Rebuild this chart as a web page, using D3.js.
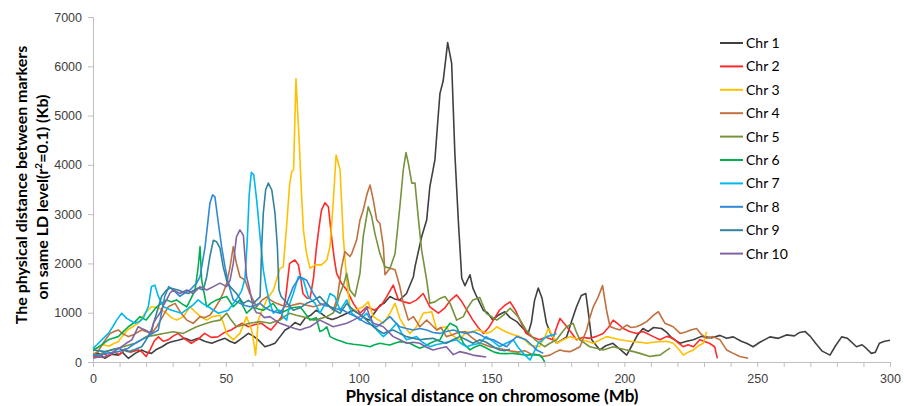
<!DOCTYPE html>
<html>
<head>
<meta charset="utf-8">
<script src="https://cdn.jsdelivr.net/npm/d3@7"></script>
<style>
  body { margin: 0; background: #fff; }
  svg { display: block; }
</style>
</head>
<body>
<svg id="chart"></svg>
<script>
var width = 904, height = 406;

var names = ["Chr 1", "Chr 2", "Chr 3", "Chr 4", "Chr 5", "Chr 6", "Chr 7", "Chr 8", "Chr 9", "Chr 10"];
var colors = ["#404040", "#ff2a2a", "#ffc000", "#c0703e", "#76933c", "#00b050", "#00b8f0", "#2f8ad6", "#31849b", "#8064a2"];
var yTicks = [0, 1000, 2000, 3000, 4000, 5000, 6000, 7000];
var xLabels = [0, 50, 100, 150, 200, 250, 300];

// [Mb, Kb]
var chr1 = [[0,140],[2,180],[4.5,75],[7,160],[9.5,140],[11,200],[13.3,75],[16,180],[18.3,245],[20,200],[22,175],[24,260],[26,310],[28,380],[29.6,410],[32,440],[34.6,480],[37,430],[39.6,480],[42,420],[44.7,380],[47,430],[49.7,480],[51.5,420],[53.4,380],[56,480],[58.5,580],[60.5,520],[62.2,450],[64.7,310],[66.5,340],[68.5,380],[70.5,520],[72.3,650],[74,700],[76,800],[78,750],[80,900],[82,950],[84,1050],[86,980],[88,900],[90,860],[92,900],[94,950],[96,1000],[98,1050],[100,980],[102,900],[104,850],[106,1000],[108,1150],[109.5,1190],[111.8,1330],[113.5,1280],[115.5,1260],[118,1390],[120.6,1730],[121.2,1930],[122.5,2250],[123.7,2540],[125.6,2880],[126.8,3560],[128.7,4100],[129.8,4900],[130.6,5450],[131.8,5700],[133.5,6480],[135,6060],[136.2,4240],[137.5,2880],[138.8,1700],[140,1550],[141.9,1770],[143,1500],[144.4,1330],[146.9,1050],[148.5,1000],[150.5,850],[152.5,950],[155,1020],[157,900],[159.5,820],[161.5,700],[163.8,580],[165,800],[166.2,1250],[167.6,1500],[169,1300],[170.7,785],[172.5,550],[174.5,380],[176.5,450],[178.3,510],[180,800],[182,1120],[183.8,1350],[185.5,1390],[186.7,900],[187.7,450],[190.8,245],[193,330],[195.7,380],[198.5,250],[200.9,140],[203,350],[205,550],[207,680],[209,620],[211,700],[214,680],[216,600],[218,480],[221,380],[223.5,420],[226,450],[229,520],[233,490],[236,540],[238.5,480],[241,510],[244,420],[246,380],[248.5,310],[251,400],[254.8,510],[258,480],[261,550],[264,530],[266,600],[268,620],[270,520],[272,380],[274.5,220],[277.4,140],[279.5,330],[281.8,510],[284,480],[287.4,310],[289.5,350],[291,280],[293,175],[294.5,200],[296,380],[298,420],[300,440]];
var chr2 = [[0,120],[2,100],[4,160],[6,120],[8,200],[10,150],[12,260],[14,200],[17,245],[18.5,200],[20,110],[21.5,250],[23,420],[24.6,510],[26.5,420],[28.3,450],[30,520],[32,580],[34.5,470],[37,380],[39.5,460],[42,580],[44.5,500],[47,510],[49.5,600],[52,650],[54,720],[56,785],[58.5,715],[61,760],[63.5,785],[65.5,700],[67,650],[69,780],[71,920],[72.5,1300],[74,2000],[76,2070],[77.3,1970],[78.2,1700],[79,1390],[80.5,1300],[81.7,1290],[83,1700],[84,2270],[85,2700],[86,3080],[87.3,3230],[88.6,3150],[89.8,2540],[90.8,2100],[91.7,1800],[93.5,1600],[95.5,1460],[97,1300],[98,1190],[100.5,990],[103,1120],[106,1050],[108.5,1150],[110.5,1320],[113,1560],[115,1260],[117,1220],[119.3,1190],[121.8,1260],[124.3,1390],[126.8,1120],[130,990],[132.5,1100],[134.5,1250],[136.9,1360],[138.5,1250],[140,1120],[143,850],[145,700],[147,580],[149,700],[150.7,850],[153,1050],[155,1150],[157,1220],[159,1050],[160.7,850],[163,580],[165.5,500],[168,450],[170.5,500],[173,450],[174.5,700],[175.8,885],[178.3,720],[180,600],[182,450],[184.5,500],[187,480],[189.5,520],[192,580],[194,700],[195.8,850],[197.5,780],[199.6,680],[202,620],[204.6,580],[207,620],[209.6,550],[211.5,500],[213.4,450],[216,520],[218.4,480],[220,400],[222.2,310],[224,350],[226,310],[228.4,450],[230,420],[232,380],[234,310],[235,75]];
var chr3 = [[0,250],[2,300],[4,350],[6,320],[8,380],[9.5,410],[11,520],[13,650],[15,720],[17,785],[19.6,990],[22,1120],[25,1090],[27.7,990],[29.5,900],[31.5,850],[34,920],[36.5,1120],[39,990],[41,900],[42.8,850],[45,920],[47.8,950],[49,800],[50.3,580],[52.8,450],[55.3,580],[57.8,920],[59.7,650],[60.5,400],[61.2,140],[62.2,850],[64,1100],[65.4,1260],[67.9,1460],[70.4,1900],[71.6,1930],[72.9,2780],[74,3600],[74.8,3860],[75.5,3900],[76.4,5750],[77.6,4500],[78.5,3400],[79.2,2680],[80.4,2200],[81.7,1900],[83.6,1970],[86,1970],[88,2070],[89.2,2340],[90.4,3220],[91.5,4200],[93,3900],[94.2,2540],[95.5,1660],[96.7,1120],[98.6,1050],[101.7,1120],[103.6,1220],[105.5,920],[107.5,850],[109.3,785],[111.8,990],[113.7,1190],[115.5,885],[117.5,700],[119.3,580],[121.8,715],[124.3,990],[127.5,1020],[129.4,650],[131,700],[133,715],[135,550],[138,450],[140.6,615],[142.5,600],[144.4,650],[146,640],[148,580],[150,620],[152,715],[154,650],[156,600],[158,560],[160.7,515],[162.5,450],[164.5,345],[166,330],[168,310],[170,500],[171.4,680],[173,520],[174.5,380],[177,450],[179.5,515],[181.5,480],[183.3,450],[186,420],[188.3,380],[191,450],[193.3,515],[196,480],[198.3,450],[201,430],[203.4,410],[206,400],[208.4,380],[211,400],[213.4,410],[216,420],[218.4,380],[220.5,260],[222.2,140],[224,200],[226,245],[228,330],[229.7,380],[231,615]];
var chr4 = [[0,150],[2,220],[4,400],[6.4,580],[8,620],[9.5,650],[11,580],[13.3,515],[15.5,560],[18.3,650],[20,620],[22,580],[24,715],[26,900],[28.3,1120],[30.9,1190],[33,1000],[35.3,850],[37.7,785],[40.3,920],[42,900],[44,950],[46,1100],[47.8,1260],[49,1400],[50.3,1600],[51.5,1900],[52.8,2340],[54,2000],[55.3,1730],[57.2,1660],[59,1390],[61.6,1120],[63.5,1250],[65.4,1320],[67,1250],[69.1,1190],[71,1150],[72.9,1120],[75,1150],[77.9,1190],[80.5,1150],[82.9,1120],[85,1150],[87.9,1190],[90.4,1050],[92,1300],[93.5,1900],[94.8,2240],[96.7,2140],[97.4,2200],[99.2,2470],[100.5,2880],[101.7,3080],[103.2,3420],[104.3,3590],[105.5,3290],[106.8,2880],[108,2810],[109.3,2340],[109.9,1770],[111.8,1900],[113.7,1870],[115.5,1530],[116.8,1190],[118.7,850],[120.6,920],[123,715],[125.6,850],[127.5,750],[129.4,650],[131,700],[133,515],[135,550],[137.5,600],[140,620],[142.5,500],[145,400],[147.5,350],[150,300],[152.5,280],[155,250],[157.5,220],[160,200],[162.5,230],[165,160],[167,150],[169.5,110],[172,140],[174,200],[175.8,245],[177.5,220],[179.5,210],[181.5,260],[183.3,310],[185.8,650],[187,900],[188.3,1120],[190,1300],[191.8,1550],[193.3,1050],[194.6,720],[196.5,680],[198.3,650],[200.9,750],[202.5,700],[204.6,715],[206.5,760],[208.4,820],[211,950],[212.8,1020],[215.3,785],[218.4,715],[221,580],[223.4,615],[225,650],[227.2,680],[229,560],[231,480],[233.4,515],[236,450],[238.5,245],[241,175],[243.5,110],[246.6,75]];
var chr5 = [[0,150],[2,140],[4,200],[6,230],[8,260],[9.5,280],[12,320],[15.8,380],[18,450],[20,515],[23,540],[26.5,580],[30.2,615],[34,580],[36.5,650],[39,715],[42.8,785],[45,820],[47.8,850],[50.3,990],[52,850],[54,715],[56.5,750],[59,785],[62.9,820],[66.6,785],[70.4,850],[72,920],[74,990],[76.5,950],[79,920],[82.9,850],[85.5,880],[88,920],[90.5,1000],[92,1200],[93,1390],[94.5,1600],[95.5,1800],[96.7,1460],[98.6,1330],[100.5,1800],[101.7,2540],[103.6,3150],[104.9,2950],[106.1,2610],[108,2200],[109.9,1930],[111.8,1900],[113.7,2200],[115.5,3150],[116.8,3900],[117.8,4250],[118.7,4030],[120,3630],[121.2,3630],[122.4,2950],[123.7,2270],[125.6,1660],[126.8,1190],[128.7,1220],[130.6,1290],[132.5,1330],[134.4,1190],[136.9,850],[139.4,920],[141,1100],[143,1260],[145.6,1310],[148,990],[150,920],[152,850],[154.5,950],[157,1090],[160,920],[163,650],[166.4,450],[170,310],[172,380],[174.5,450],[176.5,600],[178.3,715],[180.7,785],[182,600],[183.3,450],[187,310],[189.5,280],[192,245],[195.8,310],[198,280],[200.9,245],[203.5,210],[205.9,175],[209.6,110],[211.5,130],[213.4,140],[215.5,220],[217.2,280]];
var chr6 = [[0,250],[2,300],[4,380],[5.8,450],[7.5,480],[9.5,515],[11.5,620],[13.3,715],[15.5,800],[17.7,920],[20,850],[22,990],[24,1120],[26,1200],[27.7,1260],[29.5,1220],[31.5,1260],[33.5,1180],[35.3,1120],[37,1300],[38.4,1460],[39.6,1930],[40.3,2340],[40.9,1660],[42.8,1120],[44.5,1200],[46.5,1260],[48.5,1300],[50.3,1330],[52.8,1120],[55.3,1260],[57.8,990],[60.3,1120],[62,1080],[64.1,1050],[66,1120],[67.8,1190],[70.4,990],[72.9,1050],[75,1100],[77.9,1120],[79,1050],[81.7,850],[84,900],[85.4,620],[86.7,650],[88,715],[89.2,515],[91.7,450],[93.5,420],[95.5,380],[98,360],[100.5,345],[102.5,330],[104.3,310],[106,350],[108,380],[110,360],[111.8,345],[113.5,380],[115.5,410],[117.5,400],[119.3,380],[121,330],[123,280],[125,320],[126.8,380],[128.5,420],[130.6,450],[132.5,650],[134.4,785],[136.9,715],[138,550],[139.4,380],[141.9,245],[143.5,300],[145.6,345],[147.5,300],[149.4,245],[151,200],[153,175],[155.5,170],[158,175],[160.5,160],[163,140],[165.5,150],[168,140],[169.2,80],[170,0]];
var chr7 = [[0,280],[1.5,350],[3.3,450],[5.8,580],[7.5,720],[8.9,850],[10.8,990],[12.7,885],[15.8,785],[17.5,820],[18.9,885],[20.8,1120],[22,1530],[23.3,1560],[24.6,1330],[26.5,1120],[29.6,1050],[31.5,1020],[33.4,990],[35.9,1090],[37.5,1150],[39.6,1260],[41.5,1180],[43.4,1120],[47.2,990],[50.9,1050],[53,1200],[54.7,1330],[56,1450],[57.2,1700],[58,2400],[58.8,3400],[59.6,3850],[60.5,3800],[61.6,3290],[62.9,2540],[64.1,1870],[65.4,1460],[66.6,1190],[67.9,990],[69.1,1050],[70.4,1050],[71.6,920],[72.9,850],[74.1,1190],[75.4,1390],[77.3,1730],[79.2,1660],[81,1330],[83.6,1190],[85.4,990],[86.7,1120],[88,1190],[89.2,1390],[91,1330],[93,1050],[95.5,1260],[97.4,990],[100.5,850],[103,990],[105,800],[106.8,650],[109.3,515],[111.5,620],[114.3,785],[116,600],[118,450],[120,480],[121.8,515],[124,400],[126.8,310],[129,350],[131.8,380],[134.5,420],[136.9,450],[138.5,380],[140.6,310],[143,350],[145.6,380],[148,515],[150.5,420],[153,310],[155.5,380],[158.2,450],[160,300],[162,175],[164.5,40],[166,200],[167.6,380],[170.7,515],[173,550],[174.5,580]];
var chr8 = [[0,140],[2,130],[4.5,175],[7,190],[9.5,210],[11.5,250],[13.3,280],[15,350],[17,410],[19,470],[20.8,515],[22.5,580],[24.6,650],[25.8,1000],[27,1330],[28.5,1530],[30.2,1460],[32.7,1330],[34.5,1400],[36.5,1460],[39,1600],[40.3,1730],[42.2,2340],[44,3220],[45,3390],[45.9,3350],[47.2,2810],[48.4,2340],[49.7,1930],[50.9,1600],[52.8,1260],[55.3,1190],[57,1150],[59,1120],[61,1150],[62.9,1190],[64.8,1100],[66.6,1050],[68.5,1020],[70.4,990],[72.9,1190],[75.4,1530],[77.9,1730],[80.4,1660],[82.9,1390],[85.4,1190],[87,1150],[89.2,1120],[91.5,1080],[94.2,1050],[96.5,980],[99.2,920],[101,850],[103,785],[105,750],[106.8,715],[109,800],[111.8,920],[113.5,820],[115.5,715],[118,680],[120.6,650],[123,680],[125.6,650],[128,600],[130.6,580],[133,620],[135.6,650],[138,610],[140.6,580],[143,620],[145.6,560],[148,480],[150.7,450],[153,380],[155.7,310],[157.5,420],[159.5,515],[161.5,480],[163,450],[165,350],[167,245],[169.5,175]];
var chr9 = [[0,245],[2,230],[4.5,210],[7,250],[9.5,280],[11.5,240],[13.3,210],[16,260],[18.3,310],[20,450],[22,650],[24,1000],[25.8,1330],[27.5,1450],[29,1500],[30.5,1480],[32,1460],[34,1420],[35.9,1390],[37.8,1450],[39.6,1500],[40.5,1480],[41.5,1460],[42.8,1730],[44,2140],[45.3,2470],[46.5,2440],[47.8,2310],[49,1930],[50.3,1660],[51.6,1530],[54,1390],[56.6,1190],[58.5,1250],[60.3,1190],[61.5,1250],[62.9,1320],[63.5,2340],[64.1,3020],[65,3500],[66,3630],[67.3,3490],[68.5,3020],[69.4,2340],[70,1460],[70.8,1330],[73,1200],[75.4,1050],[78,1100],[80.4,1190],[83,1250],[85.4,1330],[87.5,1200],[89.2,1120],[91,1050],[93,990],[95.5,1190],[98,1050],[100,980],[101.7,920],[103.5,820],[105.5,715],[107.5,640],[109.3,580],[111,620],[113,650],[115.5,580],[118,515],[120.5,480],[123,450],[125.5,470],[128,480],[130.5,420],[133,380],[135.5,450],[138,515],[140.5,450],[143,380],[145.6,450],[148,400],[150.7,310],[153,245],[155,230],[157,260]];
var chr10 = [[0,75],[2,100],[4,90],[5.8,140],[8,220],[10.8,310],[12.5,380],[14.6,450],[16,600],[17,715],[18.3,680],[19.6,650],[22,580],[22.7,785],[24,900],[25.2,990],[26.5,1150],[27.7,1260],[29,1400],[30.2,1460],[32.7,1390],[35.3,1460],[37.7,1390],[40.3,1530],[42.8,1460],[45.3,1530],[47.8,1600],[50.3,1530],[51.6,1660],[52.8,2000],[54,2540],[55.3,2680],[56.6,2570],[57.2,2140],[57.8,1730],[59,1460],[60.3,1120],[61.5,1000],[62.9,990],[64.5,900],[66.6,920],[68.5,850],[70.4,785],[72.2,750],[74,715],[76,680],[78,650],[80,690],[81.7,715],[83.5,780],[85.4,850],[88,780],[90.4,715],[93,750],[95.5,785],[98,850],[100.5,920],[102,1000],[103,1120],[104,950],[105.5,785],[107.5,750],[109.3,715],[111,620],[113,515],[115.5,450],[118,380],[120.5,400],[123,380],[125.5,300],[128,245],[130.5,280],[133,310],[135.6,150],[138,210],[140.5,180],[143,140],[145.5,120],[148,100]];

var series = [chr1, chr2, chr3, chr4, chr5, chr6, chr7, chr8, chr9, chr10];

var svg = d3.select("#chart")
    .attr("width", width)
    .attr("height", height)
    .style("font-family", "Lato, 'Open Sans', sans-serif");

var x = d3.scaleLinear().domain([0, 300]).range([93, 890]);
var y = d3.scaleLinear().domain([0, 7000]).range([362, 17]);

// axes
var xAxis = svg.append("g")
    .attr("transform", "translate(0," + y(0) + ")")
    .call(d3.axisBottom(x).tickValues(d3.range(0, 301, 10)).tickSize(5).tickPadding(7)
        .tickFormat(function (d) { return xLabels.indexOf(d) >= 0 ? d : ""; }));
xAxis.select(".domain").attr("stroke", "#bfbfbf");
xAxis.selectAll(".tick line").attr("stroke", "#bfbfbf");
xAxis.selectAll("text").attr("fill", "#404040").style("font-size", "12.5px");

var yAxis = svg.append("g")
    .attr("transform", "translate(" + x(0) + ",0)")
    .call(d3.axisLeft(y).tickValues(yTicks).tickSize(5).tickPadding(6).tickFormat(d3.format("d")));
yAxis.select(".domain").attr("stroke", "#bfbfbf");
yAxis.selectAll(".tick line").attr("stroke", "#bfbfbf");
yAxis.selectAll("text").attr("fill", "#404040").style("font-size", "12.5px");

// lines
var line = d3.line()
    .x(function (d) { return x(d[0]); })
    .y(function (d) { return y(d[1]); });

svg.append("g").selectAll("path")
    .data(series)
    .enter().append("path")
    .attr("d", line)
    .attr("fill", "none")
    .attr("stroke", function (d, i) { return colors[i]; })
    .attr("stroke-width", 1.6)
    .attr("stroke-linejoin", "round");

// legend
var legend = svg.append("g").selectAll("g")
    .data(names)
    .enter().append("g")
    .attr("transform", function (d, i) { return "translate(720," + (43 + i * 23.4) + ")"; });
legend.append("line")
    .attr("x1", 0).attr("x2", 23)
    .attr("stroke", function (d, i) { return colors[i]; })
    .attr("stroke-width", 2);
legend.append("text")
    .attr("x", 26).attr("dy", "0.35em")
    .style("font-size", "14px")
    .attr("fill", "#000")
    .text(function (d) { return d; });

// titles
svg.append("text")
    .attr("x", 492).attr("y", 402)
    .attr("text-anchor", "middle")
    .style("font-size", "17px").style("font-weight", "bold")
    .text("Physical distance on chromosome  (Mb)");

var yt = svg.append("g").attr("transform", "translate(0,185) rotate(-90)");
yt.append("text")
    .attr("x", 0).attr("y", 27)
    .attr("text-anchor", "middle")
    .style("font-size", "16px").style("font-weight", "bold")
    .text("The physical distance between markers");
var t2 = yt.append("text")
    .attr("x", -12).attr("y", 48)
    .attr("text-anchor", "middle")
    .style("font-size", "16px").style("font-weight", "bold");
t2.append("tspan").text("on same LD level(r");
t2.append("tspan").attr("dy", -6).style("font-size", "10px").text("2");
t2.append("tspan").attr("dy", 6).text("=0.1)  (Kb)");
</script>
</body>
</html>
